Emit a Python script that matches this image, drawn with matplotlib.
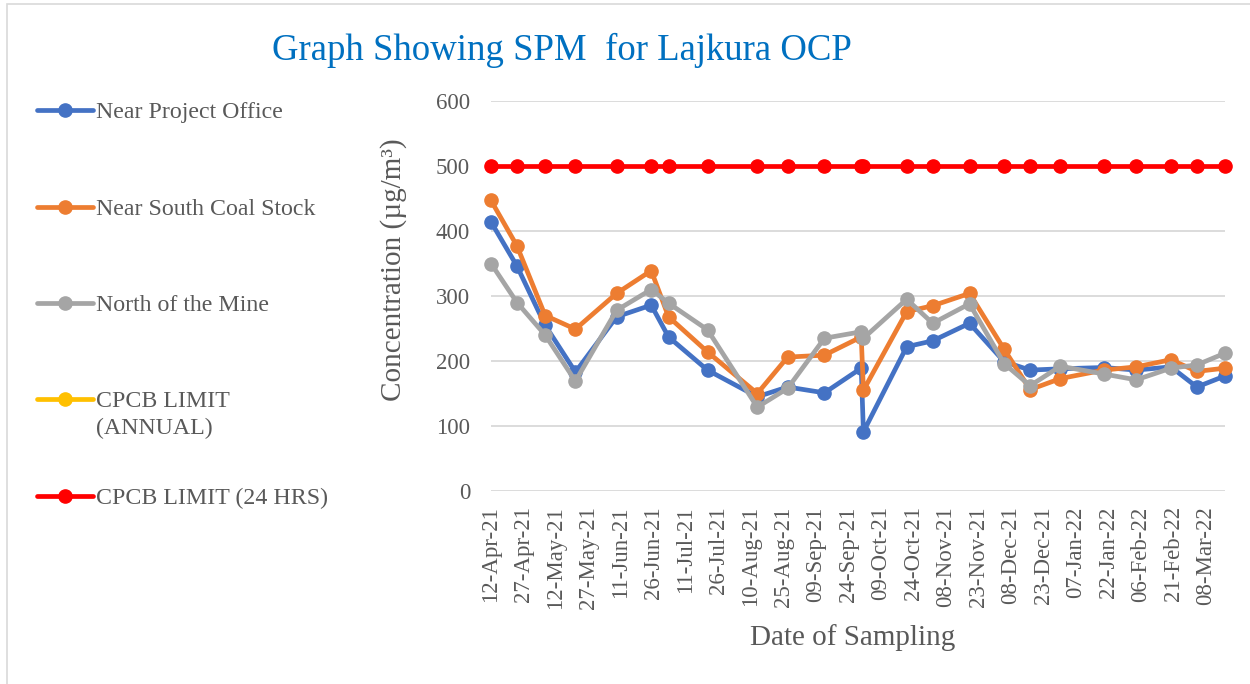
import pandas as pd
import matplotlib
matplotlib.use("Agg")
import matplotlib.pyplot as plt
import matplotlib.dates as mdates
from matplotlib.lines import Line2D
from matplotlib.patches import Rectangle

# sampling dates and SPM values (ug/m3)
dates = ["2021-04-12", "2021-04-24", "2021-05-07", "2021-05-21", "2021-06-09",
         "2021-06-25", "2021-07-03", "2021-07-21", "2021-08-13", "2021-08-27",
         "2021-09-13", "2021-09-30", "2021-10-01", "2021-10-21", "2021-11-02",
         "2021-11-19", "2021-12-05", "2021-12-17", "2021-12-31", "2022-01-20",
         "2022-02-04", "2022-02-20", "2022-03-04", "2022-03-17"]
project_office = [414, 346, 255, 183, 268, 286, 237, 186, 145, 160, 151, 189,
                  91, 222, 231, 258, 199, 186, 188, 190, 186, 191, 160, 177]
south_coal = [447, 377, 270, 249, 304, 339, 268, 214, 150, 206, 209, 237,
              155, 276, 285, 304, 218, 156, 173, 186, 191, 202, 184, 189]
north_mine = [350, 290, 240, 169, 278, 310, 289, 248, 129, 158, 235, 245,
              235, 295, 258, 288, 196, 162, 192, 180, 171, 189, 194, 212]
limit_24h = [500] * len(dates)

legend_labels = ["Near Project Office", "Near South Coal Stock", "North of the Mine",
                 "CPCB LIMIT\n(ANNUAL)", "CPCB LIMIT (24 HRS)"]
colors = ["#4472C4", "#ED7D31", "#A5A5A5", "#FFC000", "#FF0000"]

plt.rcParams["font.family"] = ["Liberation Serif", "DejaVu Serif"]
TXT = "#595959"

W, H = 1250, 684
fig = plt.figure(figsize=(W / 100, H / 100), dpi=100)
ax = fig.add_axes([491 / W, 1 - 491 / H, 734 / W, 390 / H])

x = pd.to_datetime(dates)
series = [project_office, south_coal, north_mine, None, limit_24h]
for vals, col in zip(series, colors):
    if vals is None:
        continue  # annual limit has no points drawn
    ax.plot(x, vals, "-o", color=col, lw=3.4, ms=9.5, solid_capstyle="round",
            clip_on=False)

ax.set_ylim(0, 600)
ax.set_yticks(range(0, 601, 100))
ax.set_xlim(x[0], x[-1])
ticks = pd.date_range("2021-04-12", "2022-03-17", freq="15D")
ax.set_xticks(ticks)
ax.xaxis.set_major_formatter(mdates.DateFormatter("%d-%b-%y"))
ax.grid(axis="y", color="#D9D9D9", lw=1.3)
ax.set_axisbelow(True)
for s in ax.spines.values():
    s.set_visible(False)
ax.tick_params(axis="both", length=0, labelsize=16.5, labelcolor=TXT)
ax.tick_params(axis="y", pad=15)
ax.tick_params(axis="x", pad=11, labelrotation=90)

ax.set_ylabel("Concentration (µg/m³)", fontsize=21, color=TXT)
ax.yaxis.set_label_coords(-0.1144, 0.567)
ax.set_xlabel("Date of Sampling", fontsize=21, color=TXT)
ax.xaxis.set_label_coords(0.492, -0.341)

fig.text(562 / W, 1 - 50 / H, "Graph Showing SPM  for Lajkura OCP", fontsize=26.5,
         color="#0070C0", ha="center", va="center")

# legend on the left
leg_y = [110, 207, 303, 399, 496]
for lab, col, yy in zip(legend_labels, colors, leg_y):
    yf = 1 - yy / H
    fig.add_artist(Line2D([37 / W, 93 / W], [yf, yf], color=col, lw=3.4,
                          solid_capstyle="round"))
    fig.add_artist(Line2D([65 / W], [yf], marker="o", ms=9.5, color=col))
    fig.text(96 / W, yf + 8 / H, lab, fontsize=17.2, color=TXT, va="top",
             linespacing=1.35)

fig.add_artist(Rectangle((7 / W, -0.01), 1.0, 1 - 4 / H + 0.01, fill=False,
                         edgecolor="#D9D9D9", lw=1.2, transform=fig.transFigure))

fig.savefig("out.png", dpi=100)
